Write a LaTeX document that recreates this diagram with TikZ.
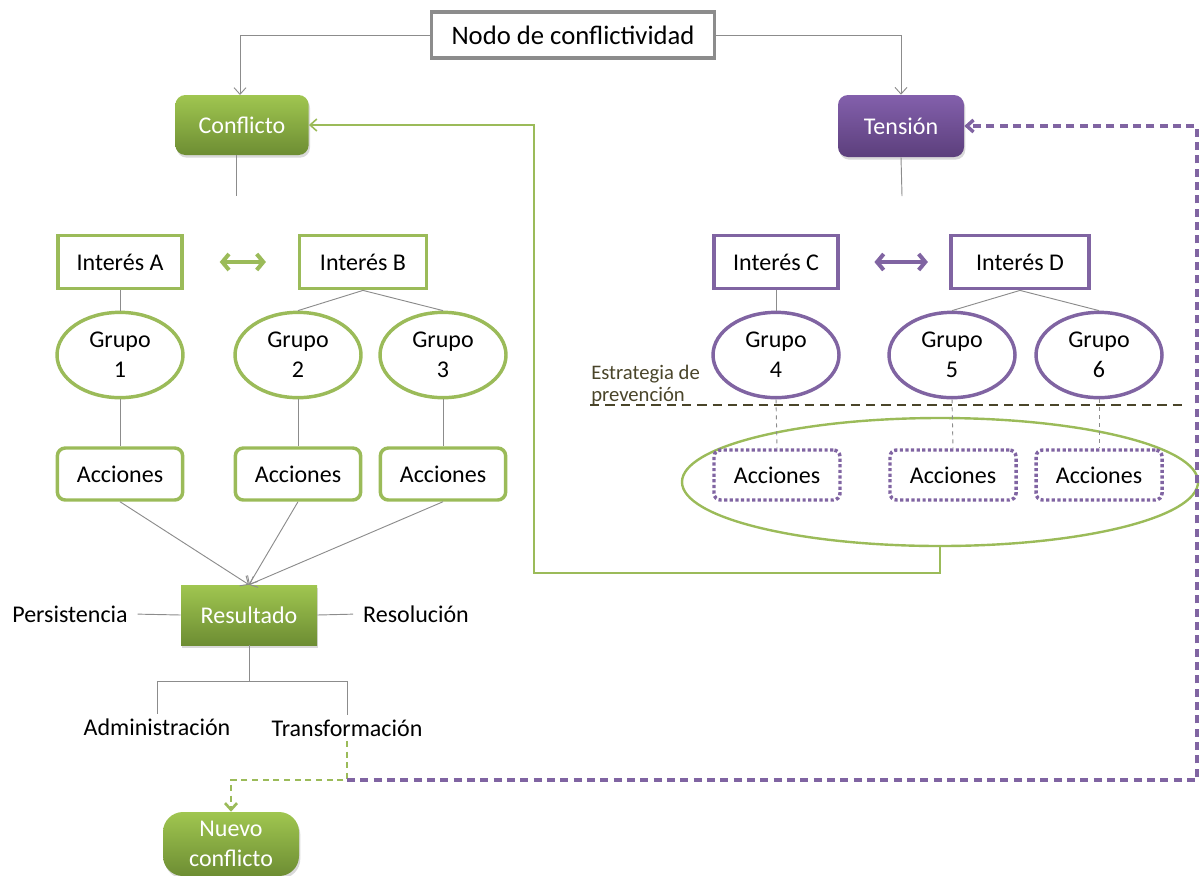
\documentclass[tikz,border=0pt]{standalone}
\usepackage{fontspec}
\setmainfont{Carlito}
\usetikzlibrary{arrows.meta,shapes.geometric,shadows}
\definecolor{verde}{HTML}{9BBB59}
\definecolor{verdeclaro}{HTML}{A0C650}
\definecolor{verdeosc}{HTML}{6D8D33}
\definecolor{morado}{HTML}{8064A2}
\definecolor{moradoclaro}{HTML}{8360AC}
\definecolor{moradoosc}{HTML}{5C3F7C}
\definecolor{gris}{HTML}{8C8C8C}
\definecolor{oliva}{HTML}{4A452A}

\begin{document}
\begin{tikzpicture}[x=0.75pt,y=-0.75pt,
	texto/.style={font=\fontsize{18}{22.5}\selectfont},
	conector/.style={draw=gris,line width=0.7pt},
	punta/.style={-{Straight Barb[length=5pt,width=9pt]}},
	nodocentral/.style={draw=gris,line width=2.4pt,minimum width=212pt,minimum height=34.5pt,font=\fontsize{20}{24}\selectfont},
	llenoverde/.style={texto,text=white,rounded corners=7.5pt,top color=verdeclaro,bottom color=verdeosc,drop shadow={opacity=0.3,shadow xshift=1pt,shadow yshift=-2pt}},
	llenomorado/.style={texto,text=white,rounded corners=7.5pt,top color=moradoclaro,bottom color=moradoosc,drop shadow={opacity=0.3,shadow xshift=1pt,shadow yshift=-2pt}},
	interesverde/.style={texto,draw=verde,line width=2.6pt,minimum height=40pt},
	interesmorado/.style={texto,draw=morado,line width=2.6pt,minimum height=40pt},
	grupoverde/.style={texto,ellipse,draw=verde,line width=2.6pt,align=center,inner sep=0pt,minimum width=94.5pt,minimum height=64pt},
	grupomorado/.style={texto,ellipse,draw=morado,line width=2.6pt,align=center,inner sep=0pt,minimum width=94.5pt,minimum height=64pt},
	accionverde/.style={texto,draw=verde,line width=2.6pt,rounded corners=6pt,minimum width=94pt,minimum height=39pt},
	accionmorada/.style={texto,draw=morado,line width=2.6pt,rounded corners=5pt,dash pattern=on 2.4pt off 1.8pt,minimum width=94.5pt,minimum height=37.5pt},
	flechaverde/.style={draw=verde,line width=3pt,{Straight Barb[length=5pt,width=12pt]}-{Straight Barb[length=5pt,width=12pt]}},
	flechamorada/.style={draw=morado,line width=3pt,{Straight Barb[length=5pt,width=12pt]}-{Straight Barb[length=5pt,width=12pt]}}
	]
	\useasboundingbox (0,0) rectangle (1201,875);
	\node[nodocentral] (nodo) at (573,35) {Nodo de conflictividad};
	\node[llenoverde,minimum width=100pt,minimum height=45pt] (conflicto) at (242,125) {Conflicto};
	\node[llenomorado,minimum width=94.5pt,minimum height=46.5pt] (tension) at (901,126) {Tensión};
	\draw[conector,punta] (nodo.west) -| (240,95);
	\draw[conector,punta] (nodo.east) -| (tension.north);
	\coordinate (conflicto fin) at (236,196);
	\coordinate (tension fin) at (902,196);
	\draw[conector] (236,155) -- (conflicto fin);
	\draw[conector] (tension.south) -- (tension fin);

	\node[interesverde,minimum width=93pt] (intA) at (120,262) {Interés A};
	\node[interesverde,minimum width=95pt] (intB) at (363,262) {Interés B};
	\node[interesmorado,minimum width=93pt] (intC) at (776,262) {Interés C};
	\node[interesmorado,minimum width=103.5pt] (intD) at (1020,262) {Interés D};
	\draw[flechaverde,shorten <=27pt,shorten >=24pt] (intA.east) -- (intB.west);
	\draw[flechamorada,shorten <=26pt,shorten >=16pt] (intC.east) -- (intD.west);

	\node[grupoverde] (g1) at (120,355) {Grupo\\1};
	\node[grupoverde] (g2) at (298,355) {Grupo\\2};
	\node[grupoverde] (g3) at (443,355) {Grupo\\3};
	\node[grupomorado] (g4) at (776,355) {Grupo\\4};
	\node[grupomorado] (g5) at (952,355) {Grupo\\5};
	\node[grupomorado] (g6) at (1099,355) {Grupo\\6};
	\draw[conector] (intA.south) -- (g1.north);
	\draw[conector] (intB.south) -- (g2.north);
	\draw[conector] (intB.south) -- (g3.north);
	\draw[conector] (intC.south) -- (g4.north);
	\draw[conector] (intD.south) -- (g5.north);
	\draw[conector] (intD.south) -- (g6.north);

	\node[accionverde] (acc1) at (120,474) {Acciones};
	\node[accionverde] (acc2) at (298,474) {Acciones};
	\node[accionverde] (acc3) at (443,474) {Acciones};
	\draw[conector] (g1.south) -- (acc1.north);
	\draw[conector] (g2.south) -- (acc2.north);
	\draw[conector] (g3.south) -- (acc3.north);

	\node[text=oliva,font=\fontsize{15.5}{17}\selectfont,align=left,anchor=west,inner sep=0pt] (estrategia) at (591,385) {Estrategia de\\prevención};
	\coordinate (prev ini) at (590,405);
	\coordinate (prev fin) at (1185,405);
	\draw[oliva,line width=1.6pt,dash pattern=on 7pt off 4.5pt] (prev ini) -- (prev fin);

	\node[ellipse,draw=verde,line width=1.8pt,minimum width=387pt,minimum height=96pt] (prev) at (940,482) {};
	\node[accionmorada] (acc4) at (777,475) {Acciones};
	\node[accionmorada] (acc5) at (953,475) {Acciones};
	\node[accionmorada] (acc6) at (1099,475) {Acciones};
	\draw[conector,dashed] (g4.south) -- (acc4.north);
	\draw[conector,dashed] (g5.south) -- (acc5.north);
	\draw[conector,dashed] (g6.south) -- (acc6.north);

	\coordinate (retorno) at (534,573);
	\draw[verde,line width=1.2pt,punta] (prev.south) |- (retorno) |- (conflicto.east);

	\node[llenoverde,rounded corners=0pt,minimum width=102pt,minimum height=45pt] (res) at (249,615) {Resultado};
	\draw[conector,punta] (acc1.south) -- (res.north);
	\draw[conector,punta] (acc2.south) -- (res.north);
	\draw[conector,punta] (acc3.south) -- (res.north);

	\node[texto] (persist) at (70,614) {Persistencia};
	\node[texto] (resol) at (416,614) {Resolución};
	\draw[conector,shorten >=4pt] (res.west) -- (persist.east);
	\draw[conector,shorten >=4pt] (res.east) -- (resol.west);

	\coordinate (rama) at (249,681);
	\node[texto] (admin) at (157,727) {Administración};
	\node[texto] (transf) at (347,728) {Transformación};
	\draw[conector] (res.south) -- (rama) -| (admin.north);
	\draw[conector] (rama) -| (transf.north);

	\node[llenoverde,rounded corners=15pt,align=center,minimum width=102pt,minimum height=48pt,font=\fontsize{18}{22}\selectfont] (nuevo) at (231,844) {Nuevo\\conflicto};
	\coordinate (cruce) at (347,780);
	\coordinate (esquina) at (1197,780);
	\draw[verde,line width=2pt,dash pattern=on 4.5pt off 3.5pt,punta] (transf.south) -- (cruce) -| (nuevo.north);
	\draw[morado,line width=2.6pt,dash pattern=on 6pt off 4pt,punta] (cruce) -- (esquina) |- (tension.east);
\end{tikzpicture}
\end{document}
